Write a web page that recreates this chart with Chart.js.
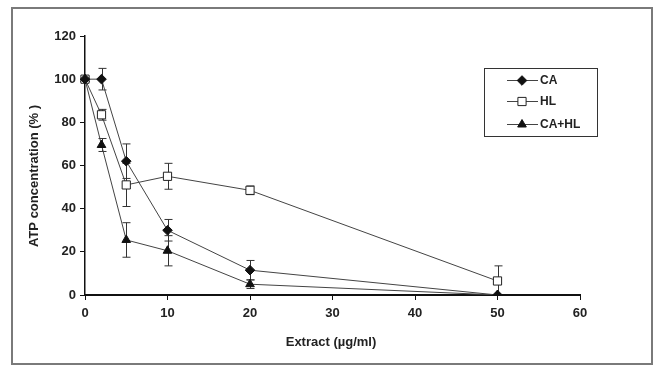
<!DOCTYPE html>
<html>
<head>
<meta charset="utf-8">
<script src="https://cdn.jsdelivr.net/npm/chart.js@4.4.1/dist/chart.umd.min.js"></script>
<style>
html,body{margin:0;padding:0;background:#fff;}
#wrap{position:relative;width:656px;height:366px;}
</style>
</head>
<body>
<div id="wrap"><canvas id="c" width="656" height="366"></canvas></div>
<script>
// Data
const doses = [0, 2, 5, 10, 20, 50];
const caValues = [100, 100, 62, 30, 11.5, 0];
const caErrors = [0, 5, 8, 5, 4.5, 0];
const hlValues = [100, 83.5, 51, 55, 48.5, 6.5];
const hlErrors = [1, 2.5, 10, 6, 2, 7];
const cahlValues = [100, 69.5, 25.5, 20.5, 5, 0];
const cahlErrors = [0, 3, 8, 7, 2, 0];
const seriesLabels = ['CA', 'HL', 'CA+HL'];
const xTitle = 'Extract (\u00b5g/ml)';
const yTitle = 'ATP concentration (% )';

const FONT = '"Liberation Sans", Arial, sans-serif';

function pts(vals){ return doses.map((d,i)=>({x:d, y:vals[i]})); }

const styles = [
  {pointStyle:'rectRot', radius:4.8, bg:'#111', border:'#111'},
  {pointStyle:'rect', radius:5.8, bg:'#fff', border:'#222'},
  {pointStyle:'triangle', radius:5, bg:'#111', border:'#111'}
];
const valueSets = [caValues, hlValues, cahlValues];
const errorSets = [caErrors, hlErrors, cahlErrors];

const datasets = valueSets.map((v,i)=>({
  label: seriesLabels[i],
  data: pts(v),
  errors: errorSets[i],
  borderColor: '#444',
  borderWidth: 1,
  pointStyle: styles[i].pointStyle,
  pointRadius: styles[i].radius,
  pointBackgroundColor: styles[i].bg,
  pointBorderColor: styles[i].border,
  pointBorderWidth: 1,
  tension: 0,
  fill: false,
  clip: {left: 10, right: 10, top: 10, bottom: 0}
}));

const framePlugin = {
  id: 'frame',
  beforeDraw(chart){
    const ctx = chart.ctx;
    ctx.save();
    ctx.fillStyle = '#fff';
    ctx.fillRect(0,0,chart.width,chart.height);
    ctx.strokeStyle = '#7a7a7a';
    ctx.lineWidth = 2;
    ctx.strokeRect(12, 8, 640, 356);
    ctx.restore();
  }
};

const errorPlugin = {
  id: 'errbars',
  beforeDatasetsDraw(chart){
    const ctx = chart.ctx;
    const xs = chart.scales.x, ys = chart.scales.y;
    ctx.save();
    ctx.strokeStyle = '#333';
    ctx.lineWidth = 1;
    chart.data.datasets.forEach(ds=>{
      ds.data.forEach((p,i)=>{
        const e = ds.errors[i];
        if(!e) return;
        const px = Math.round(xs.getPixelForValue(p.x)) + 0.5;
        const top = ys.getPixelForValue(Math.min(p.y + e, 120));
        const bot = ys.getPixelForValue(Math.max(p.y - e, 0));
        ctx.beginPath();
        ctx.moveTo(px, top); ctx.lineTo(px, bot);
        ctx.moveTo(px-4, top); ctx.lineTo(px+4, top);
        if (p.y - e > 0) { ctx.moveTo(px-4, bot); ctx.lineTo(px+4, bot); }
        ctx.stroke();
      });
    });
    ctx.restore();
  }
};

function drawMarker(ctx, style, x, y){
  ctx.save();
  ctx.fillStyle = style.bg;
  ctx.strokeStyle = style.border;
  ctx.lineWidth = 1;
  ctx.beginPath();
  const r = style.radius;
  if(style.pointStyle === 'rectRot'){
    ctx.moveTo(x, y-r); ctx.lineTo(x+r, y); ctx.lineTo(x, y+r); ctx.lineTo(x-r, y); ctx.closePath();
  } else if(style.pointStyle === 'rect'){
    const s = r*Math.SQRT1_2;
    ctx.rect(x-s, y-s, 2*s, 2*s);
  } else {
    const w = r*Math.sqrt(3)/2;
    ctx.moveTo(x, y-r); ctx.lineTo(x+w, y+r/2); ctx.lineTo(x-w, y+r/2); ctx.closePath();
  }
  ctx.fill(); ctx.stroke();
  ctx.restore();
}

const annotPlugin = {
  id: 'annot',
  afterDraw(chart){
    const ctx = chart.ctx;
    ctx.save();
    ctx.fillStyle = '#222';
    ctx.font = 'bold 13px ' + FONT;
    ctx.textAlign = 'center';
    ctx.textBaseline = 'middle';
    ctx.fillText(xTitle, 331, 342);
    ctx.translate(34, 176);
    ctx.rotate(-Math.PI/2);
    ctx.fillText(yTitle, 0, 0);
    ctx.restore();

    // legend
    ctx.save();
    ctx.strokeStyle = '#333';
    ctx.lineWidth = 1;
    ctx.strokeRect(484.5, 68.5, 113, 68);
    const rows = [80, 101, 124];
    chart.data.datasets.forEach((ds,i)=>{
      const y = rows[i];
      ctx.strokeStyle = '#444';
      ctx.beginPath();
      ctx.moveTo(507, y+0.5); ctx.lineTo(538, y+0.5); ctx.stroke();
      drawMarker(ctx, styles[i], 522, y+0.5);
      ctx.fillStyle = '#222';
      ctx.font = 'bold 12px ' + FONT;
      ctx.textAlign = 'left';
      ctx.textBaseline = 'middle';
      ctx.fillText(ds.label, 540, y+1);
    });
    ctx.restore();
  }
};

new Chart(document.getElementById('c'), {
  type: 'line',
  data: { datasets },
  options: {
    responsive: false,
    animation: false,
    layout: { padding: { left: 0, top: 36, right: 76, bottom: 0 } },
    plugins: { legend: { display: false }, tooltip: { enabled: false } },
    scales: {
      x: {
        type: 'linear',
        min: 0, max: 60,
        afterFit(s){ s.height = 71; },
        ticks: { stepSize: 10, color: '#222', font: { family: FONT, size: 13, weight: 'bold' }, padding: 6, maxRotation: 0 },
        grid: { drawOnChartArea: false, drawTicks: true, tickLength: 5, color: '#111', lineWidth: 1 },
        border: { display: true, color: '#111', width: 2 }
      },
      y: {
        type: 'linear',
        min: 0, max: 120,
        afterFit(s){ s.width = 85; },
        ticks: { stepSize: 20, color: '#222', font: { family: FONT, size: 13, weight: 'bold' }, padding: 4 },
        grid: { drawOnChartArea: false, drawTicks: true, tickLength: 5, color: '#111', lineWidth: 1 },
        border: { display: true, color: '#111', width: 1.5 }
      }
    }
  },
  plugins: [framePlugin, errorPlugin, annotPlugin]
});
</script>
</body>
</html>
